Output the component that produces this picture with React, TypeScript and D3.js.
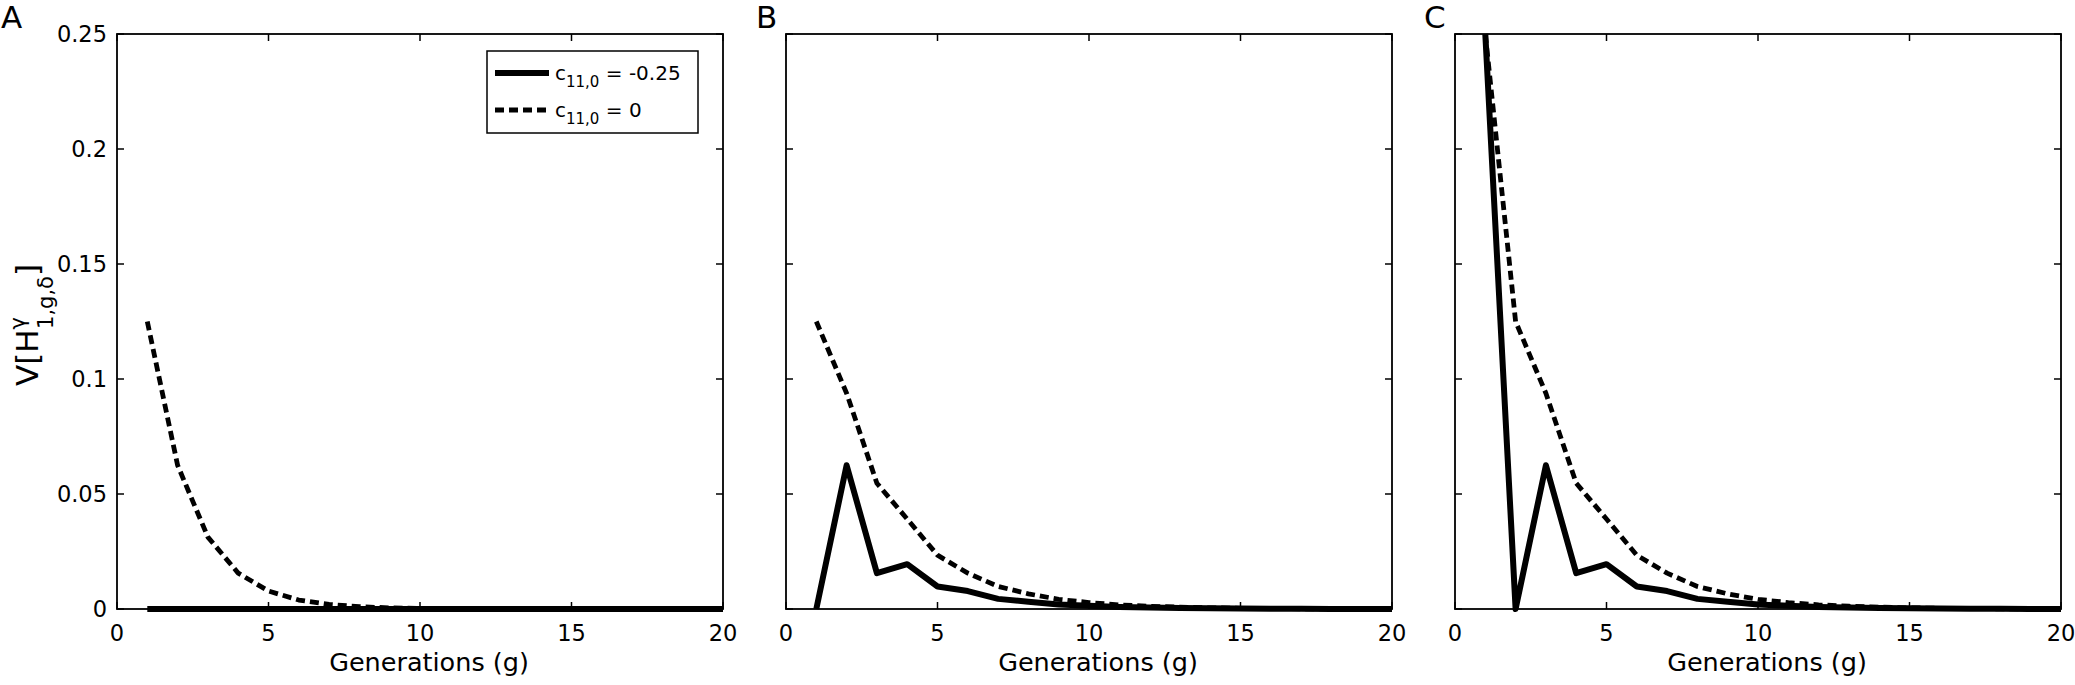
import React from "react";
import * as d3 from "d3";

const generations = d3.range(1, 21);

const xTicks = [0, 5, 10, 15, 20];
const yTicks = [0, 0.05, 0.1, 0.15, 0.2, 0.25];
const yTickLabels = ["0", "0.05", "0.1", "0.15", "0.2", "0.25"];

// Panel A
const aSolid = [0, 0, 0, 0, 0, 0, 0, 0, 0, 0, 0, 0, 0, 0, 0, 0, 0, 0, 0, 0];
const aDashed = [0.125, 0.0625, 0.03125, 0.0156, 0.0078, 0.0039, 0.002, 0.001, 0.0005, 0.00024, 0.00012, 0.00006, 0.00003, 0.00002, 0.00001, 0, 0, 0, 0, 0];
// Panel B
const bSolid = [0, 0.0625, 0.0156, 0.0195, 0.0098, 0.0078, 0.0044, 0.0032, 0.002, 0.0014, 0.0009, 0.0006, 0.0004, 0.0003, 0.0002, 0.0001, 0.0001, 0, 0, 0];
const bDashed = [0.125, 0.0938, 0.0547, 0.0391, 0.0234, 0.0156, 0.0098, 0.0066, 0.0042, 0.0028, 0.0018, 0.0012, 0.0008, 0.0005, 0.0003, 0.0002, 0.0001, 0.0001, 0, 0];
// Panel C
const cSolid = [0.25, 0, 0.0625, 0.0156, 0.0195, 0.0098, 0.0078, 0.0044, 0.0032, 0.002, 0.0014, 0.0009, 0.0006, 0.0004, 0.0003, 0.0002, 0.0001, 0.0001, 0, 0];
const cDashed = [0.25, 0.125, 0.0938, 0.0547, 0.0391, 0.0234, 0.0156, 0.0098, 0.0066, 0.0042, 0.0028, 0.0018, 0.0012, 0.0008, 0.0005, 0.0003, 0.0002, 0.0001, 0.0001, 0];

const panelLabels = ["A", "B", "C"];
const xLabel = "Generations (g)";
const legendLabels = ["-0.25", "0"];

const W = 2075;
const H = 685;
const FONT = "'DejaVu Sans', Verdana, sans-serif";
const TICK_FS = 22.5;
const LABEL_FS = 25.5;
const panelLefts = [117, 786, 1455];
const panelW = 606;
const top = 34;
const bottom = 609;
const labelX = [1, 756, 1424];
const TICK = 7;

const panels = [
  { solid: aSolid, dashed: aDashed },
  { solid: bSolid, dashed: bDashed },
  { solid: cSolid, dashed: cDashed },
];

function Panel({ idx }: { idx: number }) {
  const left = panelLefts[idx];
  const x = d3.scaleLinear().domain([0, 20]).range([left, left + panelW]);
  const y = d3.scaleLinear().domain([0, 0.25]).range([bottom, top]);
  const line = d3
    .line<number>()
    .x((_, i) => x(generations[i]))
    .y((d) => y(d));
  const p = panels[idx];
  return (
    <g>
      <text x={labelX[idx]} y={28} fontSize={31} fontFamily={FONT}>
        {panelLabels[idx]}
      </text>
      {xTicks.map((t) => (
        <g key={"x" + t}>
          <line x1={x(t)} x2={x(t)} y1={bottom} y2={bottom - TICK} stroke="#000" strokeWidth={1.5} />
          <line x1={x(t)} x2={x(t)} y1={top} y2={top + TICK} stroke="#000" strokeWidth={1.5} />
          <text x={x(t)} y={641} textAnchor="middle" fontSize={TICK_FS} fontFamily={FONT}>
            {t}
          </text>
        </g>
      ))}
      {yTicks.map((t, i) => (
        <g key={"y" + t}>
          <line x1={left} x2={left + TICK} y1={y(t)} y2={y(t)} stroke="#000" strokeWidth={1.5} />
          <line x1={left + panelW} x2={left + panelW - TICK} y1={y(t)} y2={y(t)} stroke="#000" strokeWidth={1.5} />
          {idx === 0 && (
            <text x={left - 10} y={y(t) + 8} textAnchor="end" fontSize={TICK_FS} fontFamily={FONT}>
              {yTickLabels[i]}
            </text>
          )}
        </g>
      ))}
      <rect x={left} y={top} width={panelW} height={bottom - top} fill="none" stroke="#000" strokeWidth={1.8} />
      <path d={line(p.solid) || ""} fill="none" stroke="#000" strokeWidth={6} strokeLinejoin="round" />
      <path d={line(p.dashed) || ""} fill="none" stroke="#000" strokeWidth={4.8} strokeDasharray="9,5" strokeLinejoin="round" />
      <text x={left + panelW / 2 + 9} y={671} textAnchor="middle" fontSize={LABEL_FS} fontFamily={FONT}>
        {xLabel}
      </text>
    </g>
  );
}

function Legend() {
  const bx = 487, by = 51, bw = 211, bh = 82;
  const rows = [80, 117];
  return (
    <g>
      <rect x={bx} y={by} width={bw} height={bh} fill="#fff" stroke="#000" strokeWidth={1.5} />
      {legendLabels.map((lab, i) => (
        <g key={lab}>
          <line
            x1={495}
            x2={549}
            y1={rows[i] - 7}
            y2={rows[i] - 7}
            stroke="#000"
            strokeWidth={i === 0 ? 6 : 4.8}
            strokeDasharray={i === 0 ? undefined : "9,5"}
          />
          <text x={555} y={rows[i]} fontSize={20} fontFamily={FONT}>
            c
            <tspan dy={7} fontSize={15}>11,0</tspan>
            <tspan dy={-7}>{" = " + lab}</tspan>
          </text>
        </g>
      ))}
    </g>
  );
}

function YLabel() {
  return (
    <g transform="translate(38,325) rotate(-90)">
      <text textAnchor="middle" fontSize={31} fontFamily={FONT}>
        V[H
        <tspan dy={-13} fontSize={21}>γ</tspan>
        <tspan dx={-12} dy={28} fontSize={21}>1,g,δ</tspan>
        <tspan dy={-15}>]</tspan>
      </text>
    </g>
  );
}

export default function App() {
  return (
    <svg
      width={W}
      height={H}
      viewBox={`0 0 ${W} ${H}`}
      style={{ position: "absolute", left: 0, top: 0, background: "#fff" }}
    >
      <rect x={0} y={0} width={W} height={H} fill="#fff" />
      {[0, 1, 2].map((i) => (
        <Panel key={i} idx={i} />
      ))}
      <Legend />
      <YLabel />
    </svg>
  );
}
